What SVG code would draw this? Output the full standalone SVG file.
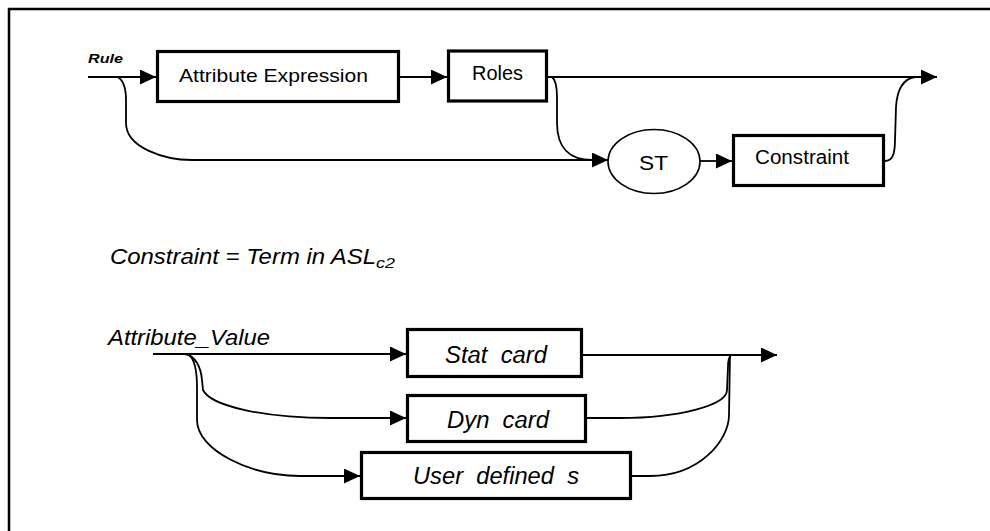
<svg xmlns="http://www.w3.org/2000/svg" width="990" height="531" viewBox="0 0 990 531">
<style>
.box{fill:#fff;stroke:#000;stroke-width:3.2}
.ell{fill:#fff;stroke:#000;stroke-width:1.6}
.con{fill:none;stroke:#000;stroke-width:1.8}
.t{font-family:"Liberation Sans",Arial,sans-serif;fill:#000;white-space:pre}
.it{font-style:italic}
.frame{stroke:#000;stroke-width:2.5;fill:none}
</style>
<defs>
<marker id="arr" markerUnits="userSpaceOnUse" markerWidth="17" markerHeight="16" refX="16" refY="7.5" orient="auto">
<path d="M0,0 L16,7.5 L0,15 z" fill="#000"/>
</marker>
</defs>
<rect width="990" height="531" fill="#fff"/>
<path class="frame" d="M9,531 V9 H990"/>

<g id="connectors">
<path class="con" d="M88,77 H156" marker-end="url(#arr)"/>
<path class="con" d="M118,77 C124,81 126,91 126,100 L126,123 C126,148 165,160 192,160 H608" marker-end="url(#arr)"/>
<path class="con" d="M400,77 H447" marker-end="url(#arr)"/>
<path class="con" d="M548,77 H937" marker-end="url(#arr)"/>
<path class="con" d="M552,77 C556,80 557,88 557,97 L557,123 C557,148 570,160 592,160"/>
<path class="con" d="M700,161 H732" marker-end="url(#arr)"/>
<path class="con" d="M885,161 C892,161 895,155 895,140 L896,107 C897,90 903,79 915,77"/>

<path class="con" d="M153,354 H406" marker-end="url(#arr)"/>
<path class="con" d="M185,354 C196,356 201,368 202,380 L203,390 C210,405 260,418 330,418 H406" marker-end="url(#arr)"/>
<path class="con" d="M188,354 C194,358 197,370 197,387 L197,420 C197,450 250,476 300,476 H360" marker-end="url(#arr)"/>
<path class="con" d="M583,355 H777" marker-end="url(#arr)"/>
<path class="con" d="M587,418 H620 C680,418 727,405 727,390 L728,367 C728,360 730,356 731,355"/>
<path class="con" d="M632,476 H650 C700,476 729,440 729,415 L730,355"/>
</g>

<g id="label-rule"><text class="t it" x="88" y="63" font-size="13" font-weight="bold" textLength="35" lengthAdjust="spacingAndGlyphs">Rule</text></g>

<g id="node-attribute-expression">
<rect class="box" x="157.5" y="51.5" width="241" height="50"/>
<text class="t" x="179" y="82" font-size="19" textLength="189" lengthAdjust="spacingAndGlyphs">Attribute Expression</text>
</g>
<g id="node-roles">
<rect class="box" x="448.5" y="51" width="98" height="50"/>
<text class="t" x="472" y="80" font-size="19.5" textLength="51" lengthAdjust="spacingAndGlyphs">Roles</text>
</g>
<g id="node-st">
<ellipse class="ell" cx="654" cy="161.5" rx="46" ry="32"/>
<text class="t" x="639" y="170" font-size="21" textLength="29" lengthAdjust="spacingAndGlyphs">ST</text>
</g>
<g id="node-constraint">
<rect class="box" x="733.5" y="135.5" width="150" height="50"/>
<text class="t" x="755" y="164" font-size="19.5" textLength="94" lengthAdjust="spacingAndGlyphs">Constraint</text>
</g>

<g id="label-definition">
<text class="t it" x="110" y="264" font-size="21.5" textLength="266" lengthAdjust="spacingAndGlyphs">Constraint = Term in ASL</text>
<text class="t it" x="376" y="268" font-size="14" textLength="19" lengthAdjust="spacingAndGlyphs">c2</text>
</g>

<g id="label-attribute-value"><text class="t it" x="108" y="345" font-size="22" textLength="162" lengthAdjust="spacingAndGlyphs">Attribute_Value</text></g>

<g id="node-stat-card">
<rect class="box" x="407.5" y="329.5" width="174" height="47"/>
<text class="t it" x="445" y="363" font-size="23" textLength="102" lengthAdjust="spacingAndGlyphs">Stat  card</text>
</g>
<g id="node-dyn-card">
<rect class="box" x="407.5" y="395.5" width="178" height="46"/>
<text class="t it" x="447" y="428" font-size="23" textLength="102" lengthAdjust="spacingAndGlyphs">Dyn  card</text>
</g>
<g id="node-user-defined">
<rect class="box" x="361.5" y="452.5" width="269" height="46"/>
<text class="t it" x="413" y="484" font-size="23" textLength="166" lengthAdjust="spacingAndGlyphs">User  defined  s</text>
</g>
</svg>
